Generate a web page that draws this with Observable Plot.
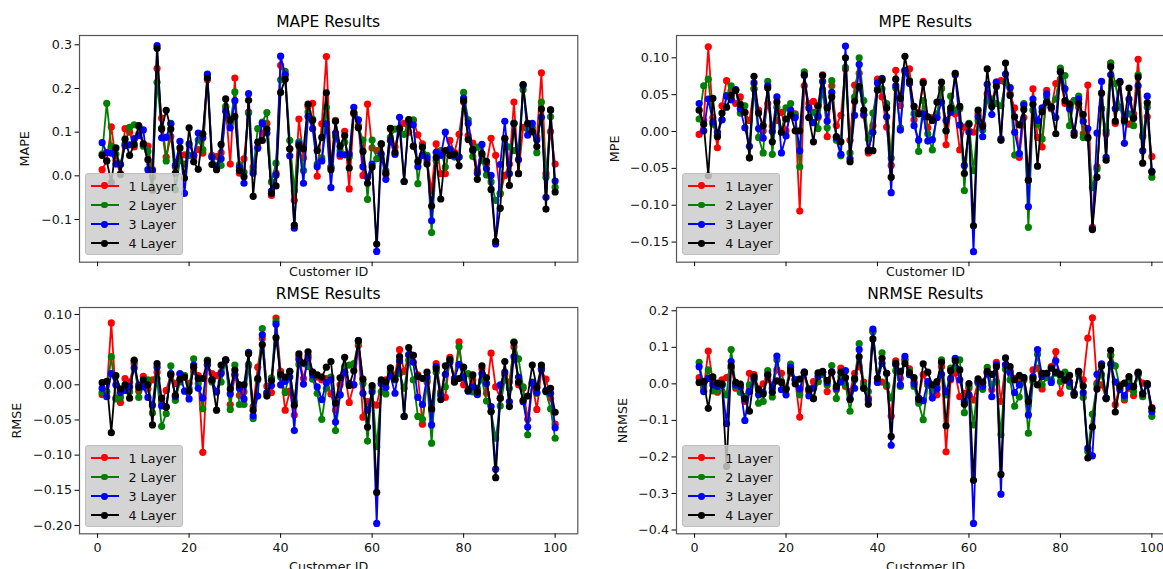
<!DOCTYPE html>
<html>
<head>
<meta charset="utf-8">
<script src="https://cdn.jsdelivr.net/npm/d3@7"></script>
<script src="https://cdn.jsdelivr.net/npm/@observablehq/plot@0.6"></script>
<style>
html,body{margin:0;padding:0;background:#fff;width:1163px;height:569px;overflow:hidden;font-family:"DejaVu Sans",sans-serif;}
#stage{position:absolute;left:0;top:0;width:1163px;height:569px;overflow:hidden;}
.panel{position:absolute;}
.panel svg{display:block;overflow:visible;background:transparent;max-width:none !important;}
.title{position:absolute;transform:translate(-50%,-50%);font-size:15.5px;color:#000;white-space:nowrap;}
.legend{position:absolute;width:98px;height:82.6px;box-sizing:border-box;background:rgba(205,205,205,.85);border:1px solid #bdbdbd;border-radius:3px;color:#111;font-size:12.7px;}
.row{position:absolute;left:0;height:19px;width:100%;}
.sw{position:absolute;left:5px;top:8.2px;width:27.5px;height:1.8px;}
.pt{position:absolute;left:15.2px;top:5.7px;width:6.8px;height:6.8px;border-radius:50%;}
.lb{position:absolute;left:42.5px;top:1px;line-height:17px;white-space:nowrap;}
</style>
</head>
<body>
<div id="stage"></div>
<script>
const customerIds = d3.range(1, 101);
const layerNames = ["1 Layer","2 Layer","3 Layer","4 Layer"];
const layerColors = ["#ff0000","#008000","#0000ff","#000000"];
const xTicks = [0,20,40,60,80,100];

const mape1 = [.014,.035,.112,.035,.005,.108,.1,.066,.096,.073,.068,.014,.246,.132,.043,.09,.02,.043,.048,.047,.043,.06,.052,.22,.047,.044,.053,.157,.027,.224,.006,.039,.146,.02,.066,.098,.12,-.045,.006,.253,.23,.062,-.056,.13,.041,.159,.166,-.001,.119,.273,.02,.127,.045,.102,-.03,.142,.115,.001,.164,.064,.058,.073,.003,.107,.066,.107,.12,.1,.127,.094,.073,.035,-.034,.073,.005,.005,.081,.054,.095,.169,.092,.075,.012,.047,.027,.086,.047,-.041,.001,.027,.169,.005,.111,.108,.104,.088,.236,.005,.101,.027];
const mape2 = [.05,.166,.068,.05,.027,.073,.111,.117,.113,.068,.056,-.003,.214,.11,.034,.12,-.032,.035,.027,.047,.047,.082,.06,.23,.043,.024,.024,.159,.12,.192,.026,.008,.144,.012,.108,.123,.145,-.014,.029,.22,.239,.081,-.034,.078,.012,.146,.13,.027,.041,.157,.02,.09,.058,.077,.043,.143,.111,.082,-.054,.082,.039,.073,.012,.088,.107,.107,.095,.128,.128,-.018,.066,.047,-.13,.035,.058,.02,.062,.043,.043,.191,.128,.044,.066,.035,.002,-.014,-.056,-.04,.085,.066,.058,.066,.197,.108,.111,.053,.169,-.003,.135,-.026];
const mape3 = [.076,.053,.052,.027,.026,.069,.071,.085,.092,.105,.014,.012,.298,.087,.088,.119,.024,.079,-.04,.073,.047,.098,.087,.233,.043,.02,.039,.148,.11,.172,.02,-.017,.188,.006,.063,.12,.098,-.035,.002,.274,.232,.046,-.12,.073,-.017,.136,.108,.021,.034,.119,-.027,.098,.05,.048,.05,.157,.128,.021,-.003,.027,-.173,.05,-.008,.081,.049,.134,-.013,.123,.117,.021,.047,.041,-.103,.054,.047,.1,.06,.047,.043,.178,.12,.058,.006,.072,.016,.001,-.156,.026,.125,.005,.12,.037,.207,.093,.12,.082,.134,-.049,.151,-.012];
const mape4 = [.047,.034,-.015,.064,.003,.084,.047,.072,.115,.073,.037,-.033,.292,.107,.15,.107,.006,.064,-.005,.11,.032,.015,.096,.224,.026,.014,.072,.176,.128,.136,.012,-.002,.173,-.047,.077,.081,.107,-.04,-.023,.191,.221,.062,-.113,.069,.062,.164,.127,.058,.088,.19,.014,.125,.068,.092,.018,.145,.11,.056,-.017,.02,-.156,.073,.006,.109,.054,.109,-.013,.129,.068,.033,.066,.027,-.069,.042,-.053,.058,.047,.05,.023,.172,.083,.06,-.008,.051,.033,-.031,-.15,-.074,.086,-.022,.12,.005,.209,.12,.101,.067,.153,-.076,.151,-.037];

const mpe1 = [-.004,.015,.115,.019,-.022,.035,.069,.056,.038,.047,.026,.015,.058,.029,.001,.038,.007,.015,.026,.001,.022,.024,-.108,.062,.038,.041,.019,.077,-.007,.062,.008,.022,.085,-.012,.063,.079,.022,-.029,.008,.071,.047,.006,-.046,.083,.035,.081,.085,.016,.026,.068,.005,.019,.019,.059,-.018,.029,.024,-.025,.006,.001,-.001,.024,.01,.051,.038,.067,.069,.067,.051,.032,-.035,.019,-.066,.058,-.008,-.021,.056,.031,.065,.071,.038,.038,.042,.033,-.003,.063,-.13,-.048,.031,-.003,.093,.011,.067,.019,.01,.024,.098,-.005,.02,-.034];
const mpe2 = [.017,.062,.071,.01,-.005,.016,.049,.062,.056,.025,.035,-.035,.058,-.008,-.029,.068,-.031,.033,-.001,.032,.038,.022,-.048,.081,.019,.026,.004,.057,.005,.069,-.012,-.033,.087,-.029,.047,.1,.042,-.01,.025,.058,.058,.038,-.036,.059,.005,.083,.069,.024,-.027,.042,-.003,-.025,.024,.058,.001,.048,.029,.031,-.08,.011,-.053,.015,.002,.042,.044,.038,.035,.067,.06,-.032,-.03,.038,-.13,.029,.01,-.01,.047,.033,.044,.086,.076,.008,.042,.048,-.008,-.009,-.076,-.051,.031,.001,.093,.065,.033,.013,.024,.008,.077,-.007,.033,-.062];
const mpe3 = [.038,.001,.044,.013,-.001,.016,.048,.043,.057,.031,.005,-.02,.066,.004,-.009,.062,0,.047,-.029,-.006,.029,.019,-.026,.076,.032,.012,.021,.068,.014,.053,-.008,-.031,.116,-.037,.022,.091,.023,-.025,-.001,.066,.072,.02,-.083,.062,.002,.083,.065,.008,-.012,.024,-.013,-.011,.019,.04,.015,.026,.077,.009,-.046,-.001,-.163,.02,-.007,.064,.023,.067,-.01,.078,.059,-.001,-.03,.036,-.102,.044,.015,.032,.051,.033,.019,.081,.058,.031,-.001,.044,.014,.004,-.132,-.002,.068,-.035,.077,.031,.068,-.016,.044,.019,.062,-.026,.048,-.054];
const mpe4 = [.029,.01,-.06,.045,-.007,.025,.033,.049,.056,.037,.026,-.036,.075,.025,.008,.059,-.014,.04,-.001,.017,.023,.001,.001,.077,.019,-.014,.035,.076,.032,.047,-.007,-.014,.1,-.041,.041,.061,.029,-.026,-.026,.056,.07,.032,-.062,.071,.045,.102,.068,.034,.024,.066,.02,.015,.04,.067,.001,.032,.079,.034,-.057,.01,-.128,.029,.007,.085,.034,.061,-.012,.093,.049,.02,.009,.03,-.066,.037,-.047,.027,.04,.033,-.003,.081,.042,.037,-.005,.038,.023,-.008,-.133,-.062,.052,-.039,.088,.014,.067,.015,.059,.018,.074,-.043,.039,-.055];

const rmse1 = [-.014,-.01,.088,-.019,-.025,.009,.004,.03,-.009,.012,-.006,.007,.018,-.024,-.008,.015,.002,.015,.013,.002,.019,.013,-.096,.028,.016,.013,.018,.036,-.028,.013,-.015,-.01,.027,-.031,.025,.066,-.002,-.011,.095,.019,-.036,-.009,-.043,.04,.009,.037,.018,.011,.007,.009,-.013,-.036,0,.018,-.025,0,.056,-.046,-.024,-.027,-.029,.002,.007,.016,.014,.05,.019,.042,.042,.014,-.056,.004,-.036,.03,-.01,-.018,.039,.009,.061,0,-.008,.007,-.01,.023,-.012,.045,-.003,-.019,.014,.004,.054,0,-.005,-.049,.002,-.035,.021,.008,-.019,-.056];
const rmse2 = [-.011,-.01,.04,-.02,-.018,-.005,-.01,.033,-.018,0,.007,-.04,.009,-.059,-.041,.027,-.022,.004,.013,-.005,.037,.002,-.034,.035,.004,-.01,.004,.035,-.035,.028,-.028,-.028,.029,-.048,.007,.08,-.012,.01,.09,.011,-.011,.019,-.024,.029,.03,.026,.008,-.012,-.049,-.005,.011,-.065,-.015,.026,.028,.03,.061,.002,-.08,-.005,-.088,-.01,-.013,.019,.007,.016,-.005,.035,.007,-.045,-.049,.007,-.083,.018,-.012,-.003,.035,.004,.054,.009,.016,-.01,-.005,.007,-.023,-.038,-.076,-.03,.007,-.005,.061,.037,-.003,-.071,.004,-.012,.023,-.01,-.034,-.076];
const rmse3 = [-.005,-.017,.016,0,-.011,-.008,-.003,.024,0,-.003,-.018,-.029,.025,-.03,-.031,.016,-.017,.016,-.009,-.02,.028,-.005,-.019,.029,.007,-.01,.016,.035,-.013,.015,-.005,-.02,.046,-.044,-.016,.071,-.011,-.001,.086,0,.005,.011,-.065,.036,.001,.041,.014,-.003,-.021,.003,.007,-.053,-.014,.018,.002,0,.063,-.012,-.036,-.01,-.197,.002,-.004,.013,-.012,.034,-.045,.043,.032,-.018,-.028,.011,-.057,.026,-.015,.015,.032,.009,.029,.011,-.009,-.003,-.014,.016,.002,-.031,-.12,0,.018,-.024,.04,.011,-.024,-.06,.003,-.011,.023,-.008,-.012,-.061];
const rmse4 = [.003,.005,-.068,.013,-.006,0,-.019,.035,-.004,.007,0,-.057,.03,-.019,-.032,.014,-.015,.008,.011,-.009,.025,.009,.009,.034,.007,-.036,.028,.035,-.006,.021,0,0,.044,-.036,.009,.057,-.016,.006,.067,.015,.011,.019,-.029,.044,.031,.047,.018,.014,.011,.025,.033,-.026,.01,.039,-.001,.02,.063,.008,-.06,-.001,-.153,.007,.004,.024,.008,.04,-.045,.053,.042,.012,.009,.018,-.034,.023,-.021,.027,.036,.004,.009,.025,-.008,.014,-.01,.027,.01,-.038,-.132,-.019,.033,-.031,.06,.004,-.022,-.016,.028,-.004,.028,-.009,-.005,-.039];

const nrmse1 = [.017,-.014,.09,.006,-.023,.011,.017,.043,-.012,-.012,-.048,.029,.025,-.012,0,.011,-.003,.038,.029,-.012,.029,.011,-.091,.029,-.021,.006,.006,.032,-.021,.032,-.016,.043,-.007,-.021,.029,.047,.005,-.039,.143,.005,.005,-.007,-.088,.063,.015,.066,.041,.006,-.039,.025,-.003,-.026,-.03,.047,-.186,.011,.029,-.035,-.026,-.012,-.044,.006,.002,.032,-.016,.059,-.048,.052,.034,.015,.006,.011,-.057,.038,.043,-.014,.025,.047,.088,-.026,.011,.006,-.026,.032,.011,.125,.181,.002,-.003,-.039,.077,-.057,-.003,-.044,-.012,-.032,.029,.002,-.003,-.065];
const nrmse2 = [.059,-.007,.038,-.019,-.019,-.003,-.03,.094,-.007,-.023,-.035,-.003,.011,-.053,-.048,.036,-.036,.066,.006,-.012,.054,.011,-.03,.029,-.012,-.039,.006,.026,-.003,.05,-.04,.02,-.003,-.075,.011,.11,-.003,-.021,.143,.015,.085,-.003,-.039,.036,-.007,.066,.034,-.007,-.053,-.098,-.003,-.021,-.007,.066,-.03,.043,.043,.066,-.079,-.007,-.112,.002,-.015,.045,-.003,.006,-.139,.04,.011,-.061,-.036,.011,-.135,.006,.081,-.003,.017,.011,.029,.006,.032,-.007,-.026,.025,-.037,-.185,-.083,-.003,.025,-.039,.079,.049,-.01,-.039,.011,-.021,.025,-.035,-.003,-.089];
const nrmse3 = [.047,-.021,.015,-.003,-.007,-.003,-.109,.061,-.003,-.007,-.1,-.021,.015,-.03,-.023,.026,-.012,.076,-.016,-.03,.045,.011,-.014,.032,-.033,-.012,.02,.032,.004,.032,-.012,.005,.036,-.041,-.012,.094,-.012,-.044,.15,.004,.056,.029,-.168,.052,-.003,.075,.025,0,-.039,-.046,.006,-.039,-.014,.026,-.021,.015,.07,.011,-.048,-.03,-.382,.006,-.007,.029,-.035,.052,-.302,.052,.032,-.024,-.003,.017,-.085,.02,.094,.02,.029,.004,.063,.026,.011,.004,-.026,.034,-.024,-.176,-.197,.026,.055,-.039,.054,.005,-.016,-.032,-.007,-.007,.029,-.026,-.003,-.076];
const nrmse4 = [.004,.007,-.067,.019,.002,0,-.226,.049,.004,-.001,-.041,-.075,.02,-.016,-.028,.023,-.023,.008,.004,-.015,.036,0,.013,.032,-.016,-.041,.03,.034,.009,.032,-.007,.032,.017,-.043,.015,.074,-.012,-.056,.123,.015,.07,.029,-.144,.056,.034,.056,.03,.017,-.043,.055,.032,-.003,.006,.059,-.115,.036,.063,.038,-.056,.001,-.264,.014,.005,.034,.026,.047,-.248,.071,.047,.011,.023,.017,-.048,.015,-.003,.029,.029,.043,.032,.026,.011,.023,-.031,.034,-.006,-.203,-.118,-.014,.049,-.041,.092,-.077,-.006,.002,.02,-.008,.032,-.028,.001,-.067];

const panels = [
  {title:"MAPE Results", label:"MAPE", data:[mape1,mape2,mape3,mape4], yTicks:[-.1,0,.1,.2,.3], fmt:".1f", domain:[-.1977,.3213], left:79, right:577.3, top:35, bottom:261.7, labelOffset:59.5, showX:false, lx:85, ly:172.7},
  {title:"MPE Results", label:"MPE", data:[mpe1,mpe2,mpe3,mpe4], yTicks:[-.15,-.1,-.05,0,.05,.1], fmt:".2f", domain:[-.1773,.1303], left:676.3, right:1174.3, top:35, bottom:261.7, labelOffset:66.5, showX:false, lx:681.7, ly:172.7},
  {title:"RMSE Results", label:"RMSE", data:[rmse1,rmse2,rmse3,rmse4], yTicks:[-.2,-.15,-.1,-.05,0,.05,.1], fmt:".2f", domain:[-.2118,.1099], left:79, right:577.3, top:306.7, bottom:533, labelOffset:67.5, showX:true, lx:85, ly:444.7},
  {title:"NRMSE Results", label:"NRMSE", data:[nrmse1,nrmse2,nrmse3,nrmse4], yTicks:[-.4,-.3,-.2,-.1,0,.1,.2], fmt:".1f", domain:[-.4104,.209], left:676.3, right:1174.3, top:306.7, bottom:533, labelOffset:58.5, showX:true, lx:681.7, ly:444.7}
];

const stage = document.getElementById("stage");
for (const p of panels) {
  const originX = p.left - 79;
  const originY = p.top - 35;
  const plotW = p.right - p.left + 79 + 3;
  const plotH = p.bottom - p.top + 35 + 38;
  const seriesMarks = p.data.flatMap((vals, k) => {
    const rows = customerIds.map((id, i) => ({id, v: vals[i]}));
    return [
      Plot.line(rows, {x:"id", y:"v", stroke:layerColors[k], strokeWidth:1.8, curve:"linear", clip:false}),
      Plot.dot(rows, {x:"id", y:"v", fill:layerColors[k], stroke:"none", r:3.6, clip:false})
    ];
  });
  const chart = Plot.plot({
    width: plotW,
    height: plotH,
    marginLeft: 79, marginRight: 3, marginTop: 35, marginBottom: 38,
    style: {fontFamily:'"DejaVu Sans"', fontSize:"12.7px", color:"#111", background:"transparent", maxWidth:"none"},
    x: {domain:[-3.95,104.95], axis:null},
    y: {domain:p.domain, axis:null},
    marks: [
      ...seriesMarks,
      Plot.frame({stroke:"#555", strokeWidth:1.2}),
      Plot.axisX({ticks:xTicks, tickSize:4.5, tickPadding:5, stroke:"#000", tickFormat: p.showX ? (d=>String(d)) : (()=>""), label:"Customer ID", labelAnchor:"center", labelArrow:"none", labelOffset: p.showX ? 37 : 14, fontSize:12.7}),
      Plot.axisY({ticks:p.yTicks, tickSize:4.5, tickPadding:3, stroke:"#000", tickFormat:d3.format(p.fmt), label:p.label, labelAnchor:"center", labelArrow:"none", labelOffset:p.labelOffset, fontSize:12.7})
    ]
  });
  const holder = document.createElement("div");
  holder.className = "panel";
  holder.style.left = originX + "px";
  holder.style.top = originY + "px";
  holder.style.width = plotW + "px";
  holder.style.height = plotH + "px";
  holder.appendChild(chart);
  stage.appendChild(holder);

  const t = document.createElement("div");
  t.className = "title";
  t.textContent = p.title;
  t.style.left = ((p.left + p.right) / 2) + "px";
  t.style.top = (p.top - 13) + "px";
  stage.appendChild(t);

  const lg = document.createElement("div");
  lg.className = "legend";
  lg.style.left = p.lx + "px";
  lg.style.top = p.ly + "px";
  layerNames.forEach((name, k) => {
    const row = document.createElement("div");
    row.className = "row";
    row.style.top = (3 + k * 19.2) + "px";
    row.innerHTML = `<span class="sw" style="background:${layerColors[k]}"></span><span class="pt" style="background:${layerColors[k]}"></span><span class="lb">${name}</span>`;
    lg.appendChild(row);
  });
  stage.appendChild(lg);
}
</script>
</body>
</html>
